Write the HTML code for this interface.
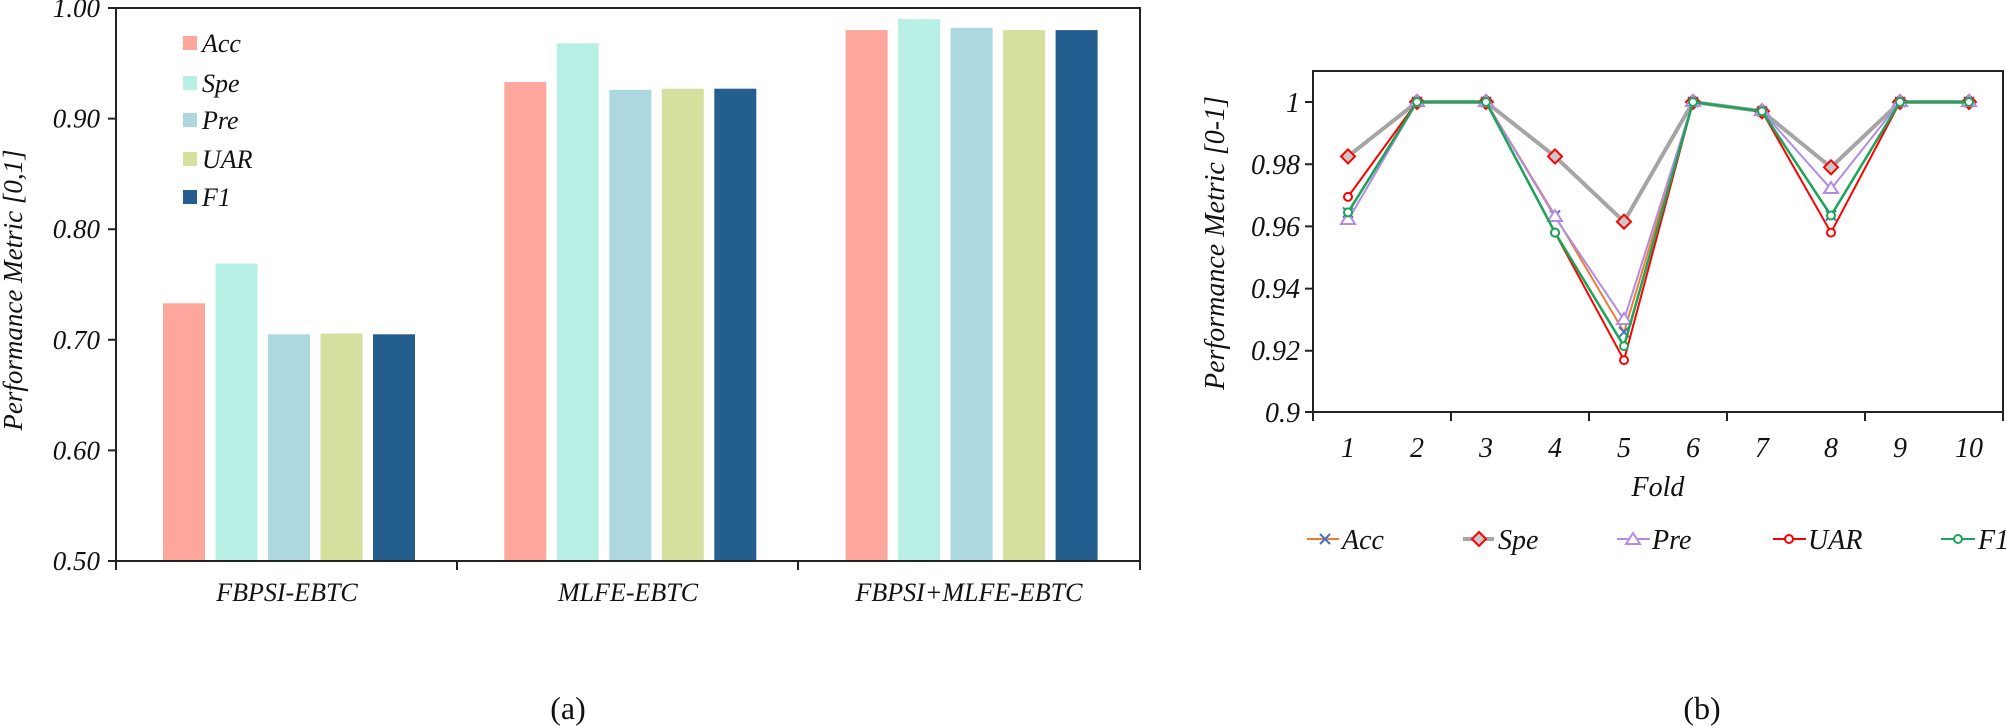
<!DOCTYPE html>
<html><head><meta charset="utf-8"><style>
html,body{margin:0;padding:0;background:#fff;}
svg{display:block;}
text{font-family:"Liberation Serif",serif;font-style:italic;fill:#111;}
</style></head><body>
<svg width="2007" height="726" viewBox="0 0 2007 726" xmlns="http://www.w3.org/2000/svg">
<g>
<rect x="163" y="303.3" width="42" height="257.7" fill="#fca69c"/>
<rect x="215.5" y="263.5" width="42" height="297.5" fill="#b8f0e6"/>
<rect x="268" y="334.3" width="42" height="226.7" fill="#add8e0"/>
<rect x="320.5" y="333.5" width="42" height="227.5" fill="#d6e09e"/>
<rect x="373" y="334.3" width="42" height="226.7" fill="#245e8e"/>
<rect x="504.3" y="82.1" width="42" height="478.9" fill="#fca69c"/>
<rect x="556.8" y="43.4" width="42" height="517.6" fill="#b8f0e6"/>
<rect x="609.3" y="89.8" width="42" height="471.2" fill="#add8e0"/>
<rect x="661.8" y="88.7" width="42" height="472.3" fill="#d6e09e"/>
<rect x="714.3" y="88.7" width="42" height="472.3" fill="#245e8e"/>
<rect x="845.6" y="30.1" width="42" height="530.9" fill="#fca69c"/>
<rect x="898.1" y="19.1" width="42" height="541.9" fill="#b8f0e6"/>
<rect x="950.6" y="27.9" width="42" height="533.1" fill="#add8e0"/>
<rect x="1003.1" y="30.1" width="42" height="530.9" fill="#d6e09e"/>
<rect x="1055.6" y="30.1" width="42" height="530.9" fill="#245e8e"/>
<path d="M116 8 H1140 V561 M116 8 V561 H1140" fill="none" stroke="#222" stroke-width="2"/>
<path d="M108 8 H116 M108 118.6 H116 M108 229.2 H116 M108 339.8 H116 M108 450.4 H116 M108 561 H116 M116 561 V570 M457 561 V570 M798 561 V570 M1140 561 V570" stroke="#222" stroke-width="2"/>
<g font-size="27" text-anchor="end">
<text x="100" y="17">1.00</text>
<text x="100" y="127.6">0.90</text>
<text x="100" y="238.2">0.80</text>
<text x="100" y="348.8">0.70</text>
<text x="100" y="459.4">0.60</text>
<text x="100" y="570">0.50</text>
</g>
<text transform="translate(22,290) rotate(-90)" font-size="27" text-anchor="middle">Performance Metric [0,1]</text>
<g font-size="26" text-anchor="middle">
<text x="287" y="601">FBPSI-EBTC</text>
<text x="628" y="601">MLFE-EBTC</text>
<text x="969" y="601">FBPSI+MLFE-EBTC</text>
</g>
<rect x="183" y="36" width="14" height="14" fill="#fca69c"/>
<rect x="183" y="76" width="14" height="14" fill="#b8f0e6"/>
<rect x="183" y="113" width="14" height="14" fill="#add8e0"/>
<rect x="183" y="152" width="14" height="14" fill="#d6e09e"/>
<rect x="183" y="190" width="14" height="14" fill="#245e8e"/>
<g font-size="26">
<text x="202" y="52">Acc</text>
<text x="202" y="92">Spe</text>
<text x="202" y="129">Pre</text>
<text x="202" y="168">UAR</text>
<text x="202" y="206">F1</text>
</g>
<text x="568" y="719" font-size="32" text-anchor="middle" style="font-style:normal">(a)</text>
</g>

<g>
<rect x="1313" y="71" width="690" height="341" fill="none" stroke="#222" stroke-width="2"/>
<path d="M1305 102 H1313 M1305 164.2 H1313 M1305 226.4 H1313 M1305 288.6 H1313 M1305 350.8 H1313 M1305 412 H1313 M1313 412 V421 M1451 412 V421 M1589 412 V421 M1727 412 V421 M1865 412 V421 M2003 412 V421" stroke="#222" stroke-width="2"/>
<g font-size="28" text-anchor="end">
<text x="1300" y="112">1</text>
<text x="1300" y="174">0.98</text>
<text x="1300" y="236">0.96</text>
<text x="1300" y="298">0.94</text>
<text x="1300" y="360">0.92</text>
<text x="1300" y="422">0.9</text>
</g>
<text transform="translate(1224,243) rotate(-90)" font-size="28" text-anchor="middle">Performance Metric [0-1]</text>
<g font-size="28" text-anchor="middle">
<text x="1348" y="457">1</text><text x="1417" y="457">2</text><text x="1486" y="457">3</text><text x="1555" y="457">4</text><text x="1624" y="457">5</text><text x="1693" y="457">6</text><text x="1762" y="457">7</text><text x="1831" y="457">8</text><text x="1900" y="457">9</text><text x="1969" y="457">10</text>
<text x="1658" y="496">Fold</text>
</g>
<polyline fill="none" stroke="#ed7d31" stroke-width="2" points="1348,212.4 1417,102 1486,102 1555,215.5 1624,332.1 1693,102 1762,111.3 1831,215.5 1900,102 1969,102"/>
<path stroke="#4472c4" stroke-width="2" d="M1343 207.4l10 10m0 -10l-10 10 M1412 97l10 10m0 -10l-10 10 M1481 97l10 10m0 -10l-10 10 M1550 210.5l10 10m0 -10l-10 10 M1619 327.1l10 10m0 -10l-10 10 M1688 97l10 10m0 -10l-10 10 M1757 106.3l10 10m0 -10l-10 10 M1826 210.5l10 10m0 -10l-10 10 M1895 97l10 10m0 -10l-10 10 M1964 97l10 10m0 -10l-10 10"/>
<polyline fill="none" stroke="#a5a5a5" stroke-width="4" points="1348,156.4 1417,102 1486,102 1555,156.4 1624,221.7 1693,102 1762,111.3 1831,167.3 1900,102 1969,102"/>
<g fill="#c8c8c8" stroke="#ff0000" stroke-width="2">
<path d="M1348 149.4l7 7l-7 7l-7 -7z"/><path d="M1417 95l7 7l-7 7l-7 -7z"/><path d="M1486 95l7 7l-7 7l-7 -7z"/><path d="M1555 149.4l7 7l-7 7l-7 -7z"/><path d="M1624 214.7l7 7l-7 7l-7 -7z"/><path d="M1693 95l7 7l-7 7l-7 -7z"/><path d="M1762 104.3l7 7l-7 7l-7 -7z"/><path d="M1831 160.3l7 7l-7 7l-7 -7z"/><path d="M1900 95l7 7l-7 7l-7 -7z"/><path d="M1969 95l7 7l-7 7l-7 -7z"/>
</g>
<polyline fill="none" stroke="#b38be6" stroke-width="2" points="1348,220.2 1417,102 1486,102 1555,217.1 1624,319.7 1693,102 1762,111.3 1831,189.1 1900,102 1969,102"/>
<g fill="#fff" stroke="#b38be6" stroke-width="2">
<path d="M1348 213l7 11h-14z"/><path d="M1417 95l7 11h-14z"/><path d="M1486 95l7 11h-14z"/><path d="M1555 210l7 11h-14z"/><path d="M1624 313l7 11h-14z"/><path d="M1693 95l7 11h-14z"/><path d="M1762 104l7 11h-14z"/><path d="M1831 182l7 11h-14z"/><path d="M1900 95l7 11h-14z"/><path d="M1969 95l7 11h-14z"/>
</g>
<polyline fill="none" stroke="#ff0000" stroke-width="2" points="1348,196.9 1417,102 1486,102 1555,232.6 1624,360.1 1693,102 1762,111.3 1831,232.6 1900,102 1969,102"/>
<g fill="#fff" stroke="#ff0000" stroke-width="2">
<circle cx="1348" cy="196.9" r="4"/><circle cx="1555" cy="232.6" r="4"/><circle cx="1624" cy="360.1" r="4"/><circle cx="1831" cy="232.6" r="4"/>
</g>
<polyline fill="none" stroke="#1aa558" stroke-width="2.5" points="1348,212.4 1417,102 1486,102 1555,232.6 1624,346.1 1693,102 1762,111.3 1831,215.5 1900,102 1969,102"/>
<g fill="#fff" stroke="#1aa558" stroke-width="2">
<circle cx="1348" cy="212.4" r="4"/><circle cx="1417" cy="102" r="4"/><circle cx="1486" cy="102" r="4"/><circle cx="1555" cy="232.6" r="4"/><circle cx="1624" cy="346.1" r="4"/><circle cx="1693" cy="102" r="4"/><circle cx="1762" cy="111.3" r="4"/><circle cx="1831" cy="215.5" r="4"/><circle cx="1900" cy="102" r="4"/><circle cx="1969" cy="102" r="4"/>
</g>
<line x1="1307" y1="539" x2="1339" y2="539" stroke="#ed7d31" stroke-width="2"/>
<path d="M1320 534l10 10m0 -10l-10 10" stroke="#4472c4" stroke-width="2"/>
<line x1="1463" y1="539" x2="1494" y2="539" stroke="#a5a5a5" stroke-width="4"/>
<path d="M1479 532l7 7l-7 7l-7 -7z" fill="#c8c8c8" stroke="#ff0000" stroke-width="2"/>
<line x1="1617" y1="539" x2="1650" y2="539" stroke="#b38be6" stroke-width="2"/>
<path d="M1633 533l7 11h-14z" fill="#fff" stroke="#b38be6" stroke-width="2"/>
<line x1="1773" y1="539" x2="1806" y2="539" stroke="#ff0000" stroke-width="2"/>
<circle cx="1789" cy="539" r="4" fill="#fff" stroke="#ff0000" stroke-width="2"/>
<line x1="1941" y1="539" x2="1975" y2="539" stroke="#1aa558" stroke-width="2"/>
<circle cx="1958" cy="539" r="4" fill="#fff" stroke="#1aa558" stroke-width="2"/>
<g font-size="28">
<text x="1342" y="549">Acc</text>
<text x="1498" y="549">Spe</text>
<text x="1652" y="549">Pre</text>
<text x="1808" y="549">UAR</text>
<text x="1978" y="549">F1</text>
</g>
<text x="1702" y="719" font-size="32" text-anchor="middle" style="font-style:normal">(b)</text>
</g>
</svg>
</body></html>
